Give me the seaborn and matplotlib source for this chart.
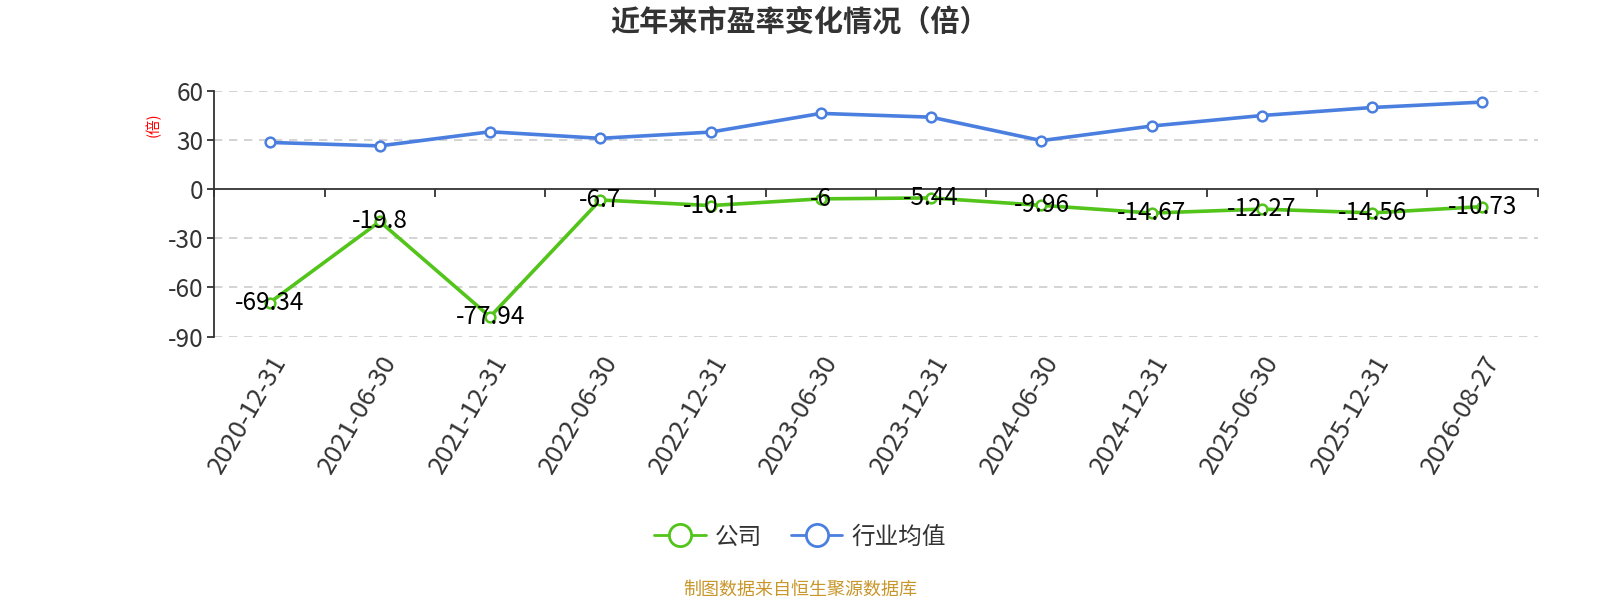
import matplotlib
matplotlib.use("Agg")
import matplotlib.pyplot as plt
import seaborn as sns
import pandas as pd
from matplotlib.lines import Line2D
from matplotlib.ticker import FixedLocator

dates = ["2020-12-31", "2021-06-30", "2021-12-31", "2022-06-30", "2022-12-31", "2023-06-30",
         "2023-12-31", "2024-06-30", "2024-12-31", "2025-06-30", "2025-12-31", "2026-08-27"]
company = [-69.34, -19.8, -77.94, -6.7, -10.1, -6, -5.44, -9.96, -14.67, -12.27, -14.56, -10.73]
company_labels = ["-69.34", "-19.8", "-77.94", "-6.7", "-10.1", "-6", "-5.44", "-9.96",
                  "-14.67", "-12.27", "-14.56", "-10.73"]
industry = [28.4, 26.3, 34.9, 30.9, 34.7, 46.1, 43.8, 29.5, 38.4, 44.8, 49.7, 53.0]
yticks = [-90, -60, -30, 0, 30, 60]
series_names = ["公司", "行业均值"]

GREEN = "#52c41a"
BLUE = "#4a7fe0"

sns.set_theme(style="white")
plt.rcParams['font.family'] = ['Noto Sans CJK SC', 'DejaVu Sans']
plt.rcParams['axes.unicode_minus'] = False

df = pd.DataFrame({
    "date": dates * 2,
    "value": company + industry,
    "series": [series_names[0]] * len(dates) + [series_names[1]] * len(dates),
})

fig = plt.figure(figsize=(16, 6), dpi=100)
ax = fig.add_axes([0.134, 0.439, 0.827, 0.41])

sns.lineplot(data=df, x="date", y="value", hue="series", palette=[GREEN, BLUE],
             marker="o", markersize=7, markerfacecolor="white", markeredgewidth=1.8,
             linewidth=2.6, ax=ax, legend=False, sort=False)
for line, col in zip(ax.lines, [GREEN, BLUE]):
    line.set_markeredgecolor(col)

ax.set_xlim(-0.5, len(dates) - 0.5)
ax.set_ylim(-90, 60)
ax.set_yticks(yticks)
ax.set_yticklabels([str(v) for v in yticks], fontsize=17.5, color="#333333")
for v in yticks:
    if v != 0:
        ax.axhline(v, color="#cccccc", linestyle=(0, (5, 4)), linewidth=1.2, zorder=0)

# axes styling
for s in ["right", "bottom"]:
    ax.spines[s].set_visible(False)
ax.spines["left"].set_color("#333333")
ax.spines["left"].set_linewidth(1.3)
ax.spines["top"].set_position(("data", 0))
ax.spines["top"].set_color("#333333")
ax.spines["top"].set_linewidth(1.3)

ax.set_xticks(range(len(dates)))
ax.set_xticklabels(dates, rotation=60, ha="right", va="top", rotation_mode="anchor",
                   fontsize=18.5, color="#333333")
ax.xaxis.set_minor_locator(FixedLocator([i - 0.5 for i in range(len(dates) + 1)]))
ax.tick_params(axis="x", which="major", bottom=True, top=False, length=0, pad=10)
ax.tick_params(axis="x", which="minor", bottom=False, top=True, direction="in",
               length=6, width=1.3, color="#333333")
ax.tick_params(axis="y", which="major", left=True, length=5, width=1.3, color="#333333", pad=3)
ax.set_xlabel("")
ax.set_ylabel("")

# data labels for company
for i, (v, t) in enumerate(zip(company, company_labels)):
    ax.text(i, v, t, ha="center", va="center", fontsize=17.5, color="#000000", zorder=5)

# y-axis unit label
fig.text(0.0955, 1 - 125 / 600, "(倍)", rotation=90, ha="center", va="center",
         fontsize=10.5, color="red")

# title
fig.text(0.5, 1 - 22 / 600, "近年来市盈率变化情况（倍）", ha="center", va="center",
         fontsize=21, fontweight="bold", color="#333333")

# legend
handles = [Line2D([0], [0], color=c, linewidth=2, marker="o", markersize=16,
                  markerfacecolor="white", markeredgecolor=c, markeredgewidth=2)
           for c in [GREEN, BLUE]]
fig.legend(handles, series_names, loc="center", bbox_to_anchor=(0.5, 1 - 537 / 600),
           ncol=2, frameon=False, fontsize=17, handlelength=2.2, handletextpad=0.4,
           columnspacing=1.2, labelcolor="#333333")

# footnote
fig.text(0.5, 1 - 590 / 600, "制图数据来自恒生聚源数据库", ha="center", va="center",
         fontsize=13, color="#c8962a")

fig.savefig("out.png", dpi=100)
